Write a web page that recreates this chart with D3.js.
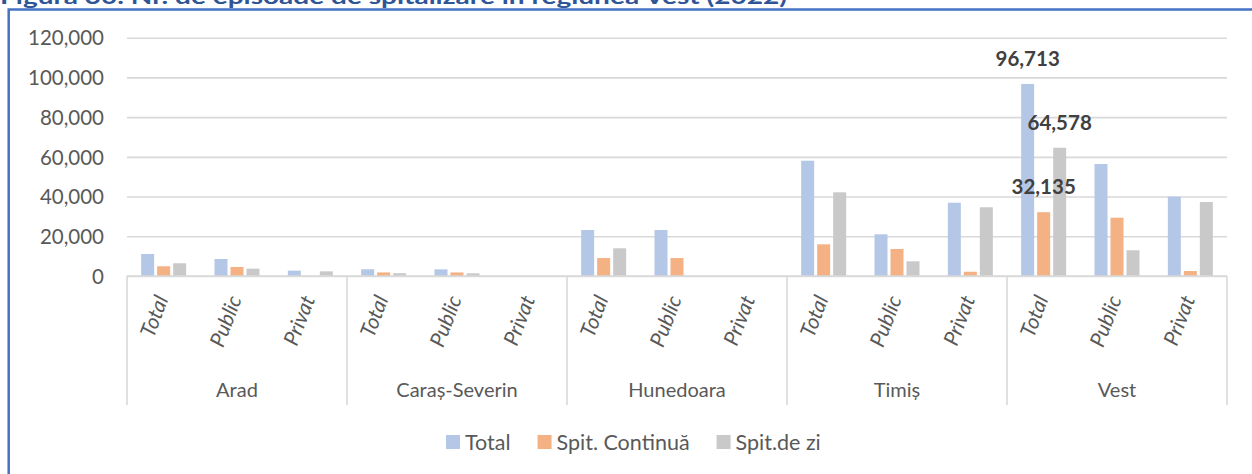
<!DOCTYPE html>
<html>
<head>
<meta charset="utf-8">
<script src="https://cdn.jsdelivr.net/npm/d3@7"></script>
<style>
  body { margin: 0; background: #fff; }
  svg { display: block; font-family: Lato, "Open Sans", sans-serif; }
</style>
</head>
<body>
<svg id="chart" width="1252" height="474"></svg>
<script>
// data
var regions = ["Arad", "Caraș-Severin", "Hunedoara", "Timiș", "Vest"];
var sectors = ["Total", "Public", "Privat"];
var seriesNames = ["Total", "Spit. Continuă", "Spit.de zi"];
var seriesColors = ["#B4C7E7", "#F4B183", "#C9C9C9"];
// one row per region, three values per sector (Total, Public, Privat)
var totalValues = [
  [11100, 8550, 2700],
  [3400, 3350, 0],
  [23150, 23150, 0],
  [58050, 21000, 36900],
  [96713, 56400, 39950]
];
var continuaValues = [
  [4900, 4550, 0],
  [1800, 1800, 0],
  [9050, 9050, 0],
  [15950, 13600, 2150],
  [32135, 29350, 2500]
];
var deZiValues = [
  [6400, 3700, 2350],
  [1400, 1350, 0],
  [13950, 0, 0],
  [42150, 7400, 34600],
  [64578, 12950, 37250]
];
var yTicks = [0, 20000, 40000, 60000, 80000, 100000, 120000];
// values that get a data label (region, sector)
var labelled = [["Vest", "Total"]];
var titleText = "Figura 30. Nr. de episoade de spitalizare  în regiunea Vest (2022)";

var svg = d3.select("svg");
var plotLeft = 127, plotRight = 1227, plotTop = 37.7, plotBottom = 276;
var gridColor = "#D9D9D9";
var textColor = "#595959";

// frame and caption (caption is cropped at the top, like the source)
svg.append("rect")
  .attr("x", 8.7).attr("y", 9.5)
  .attr("width", 1400).attr("height", 600)
  .attr("fill", "none")
  .attr("stroke", "#4472C4")
  .attr("stroke-width", 2.5);
svg.append("text")
  .attr("x", 0).attr("y", 4)
  .attr("font-size", 21).attr("font-weight", "bold")
  .attr("fill", "#2F5597")
  .attr("textLength", 787).attr("lengthAdjust", "spacingAndGlyphs")
  .text(titleText);

// scales
var x0 = d3.scaleBand().domain(regions).range([plotLeft, plotRight]);
var x1 = d3.scaleBand().domain(sectors).range([0, x0.bandwidth()]);
var x2 = d3.scaleBand().domain(seriesNames).range([0, x1.bandwidth()])
  .paddingInner(0.1875).paddingOuter(0.885);
var y = d3.scaleLinear().domain([0, 120000]).range([plotBottom, plotTop]);

// gridlines + y labels
var yAxis = d3.axisLeft(y).tickValues(yTicks).tickSize(-(plotRight - plotLeft))
  .tickFormat(d3.format(","));
var yg = svg.append("g").attr("transform", "translate(" + plotLeft + ",0)").call(yAxis);
yg.select(".domain").remove();
yg.selectAll(".tick line").attr("stroke", gridColor).attr("stroke-width", 1.6);
yg.selectAll(".tick text")
  .attr("x", -23).attr("dy", "0.35em")
  .attr("font-size", 20.5).attr("font-family", "Lato")
  .attr("fill", textColor);

// build flat bar list
var allSeries = [totalValues, continuaValues, deZiValues];
var bars = [];
regions.forEach(function(r, ri){
  sectors.forEach(function(s, si){
    seriesNames.forEach(function(n, ni){
      bars.push({region: r, sector: s, series: n, idx: ni, value: allSeries[ni][ri][si]});
    });
  });
});

var barX = function(d){ return x0(d.region) + x1(d.sector) + x2(d.series); };

svg.append("g").selectAll("rect").data(bars).enter().append("rect")
  .attr("x", barX)
  .attr("y", function(d){ return y(d.value); })
  .attr("width", x2.bandwidth())
  .attr("height", function(d){ return y(0) - y(d.value); })
  .attr("fill", function(d){ return seriesColors[d.idx]; });

// data labels
var labelBars = bars.filter(function(d){
  return labelled.some(function(l){ return l[0] == d.region && l[1] == d.sector; });
});
svg.append("g").selectAll("text").data(labelBars).enter().append("text")
  .attr("x", function(d){ return barX(d) + x2.bandwidth() / 2; })
  .attr("y", function(d){ return y(d.value) - 18; })
  .attr("text-anchor", "middle")
  .attr("font-size", 20.5).attr("font-weight", "bold")
  .attr("fill", "#404040")
  .text(function(d){ return d3.format(",")(d.value); });

// category axis: baseline, separators, labels
var catBottom = 405;
svg.append("line")
  .attr("x1", plotLeft).attr("x2", plotRight)
  .attr("y1", plotBottom).attr("y2", plotBottom)
  .attr("stroke", gridColor).attr("stroke-width", 1.6);
var seps = regions.map(function(r){ return x0(r); }).concat([plotRight]);
svg.append("g").selectAll("line").data(seps).enter().append("line")
  .attr("x1", function(d){ return d; }).attr("x2", function(d){ return d; })
  .attr("y1", plotBottom).attr("y2", catBottom)
  .attr("stroke", gridColor).attr("stroke-width", 1.6);

var subLabels = [];
regions.forEach(function(r){
  sectors.forEach(function(s){ subLabels.push({region: r, sector: s}); });
});
svg.append("g").selectAll("text").data(subLabels).enter().append("text")
  .attr("transform", function(d){
    var cx = x0(d.region) + x1(d.sector) + x1.bandwidth() / 2;
    return "translate(" + (cx + 5) + ",299) rotate(-69)";
  })
  .attr("text-anchor", "end")
  .attr("font-size", 21).attr("font-style", "italic")
  .attr("fill", textColor)
  .text(function(d){ return d.sector; });

svg.append("g").selectAll("text").data(regions).enter().append("text")
  .attr("x", function(d){ return x0(d) + x0.bandwidth() / 2; })
  .attr("y", 397)
  .attr("text-anchor", "middle")
  .attr("font-size", 20)
  .attr("fill", textColor)
  .text(function(d){ return d; });

// legend
var legend = svg.append("g");
var lx = 446;
seriesNames.forEach(function(n, i){
  legend.append("rect")
    .attr("x", lx).attr("y", 435)
    .attr("width", 14).attr("height", 14)
    .attr("fill", seriesColors[i]);
  var t = legend.append("text")
    .attr("x", lx + 19).attr("y", 442).attr("dy", "0.35em")
    .attr("font-size", 21.5).attr("fill", textColor)
    .text(n);
  lx += 19 + t.node().getComputedTextLength() + 27;
});
</script>
</body>
</html>
